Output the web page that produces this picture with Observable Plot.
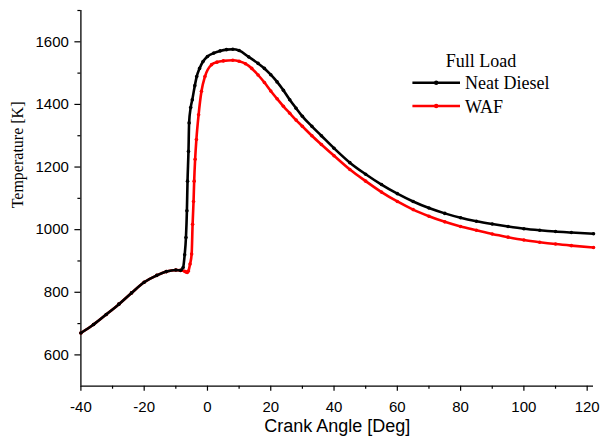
<!DOCTYPE html>
<html>
<head>
<meta charset="utf-8">
<script src="https://cdn.jsdelivr.net/npm/d3@7"></script>
<script src="https://cdn.jsdelivr.net/npm/@observablehq/plot@0.6"></script>
<style>
  html, body { margin: 0; padding: 0; background: #fff; }
  #chart svg { display: block; }
</style>
</head>
<body>
<div id="chart"></div>
<script>
// ---- Data ----
const legendTitle = "Full Load";
const seriesNames = ["Neat Diesel", "WAF"];
const seriesColors = ["#000000", "#ff0000"];

const dieselAngle = [-40, -36, -32, -28, -24, -20, -16, -13, -10, -8.5, -7.7, -7.2, -6.8, -6.5, -6.3, -6.0, -5.8, -5.3, -4.8, -4.0, -3.4, -2.5, -1.4, 0, 2, 4, 6, 8, 10, 13, 16, 18, 20, 22, 24, 26, 28, 30, 33, 36, 40, 45, 50, 55, 60, 65, 70, 75, 80, 85, 90, 95, 100, 105, 110, 115, 122];
const dieselTemp  = [670, 697, 729, 762, 798, 832, 854, 866, 871, 870, 879, 920, 975, 1060, 1155, 1250, 1341, 1390, 1415, 1460, 1489, 1515, 1537, 1553, 1564, 1571, 1575, 1576, 1572, 1552, 1531, 1515, 1495, 1472, 1445, 1415, 1388, 1362, 1330, 1300, 1260, 1214, 1177, 1144, 1115, 1090, 1069, 1052, 1038, 1027, 1018, 1010, 1003, 998, 994, 991, 987];

const wafAngle = [-40, -36, -32, -28, -24, -20, -16, -13, -10, -8.5, -7.2, -6.8, -6.4, -6.0, -5.5, -5.0, -4.7, -4.4, -4.2, -3.9, -3.5, -2.8, -1.9, -0.8, 1.3, 3, 5, 8, 10, 12, 14, 16, 18, 20, 22, 24, 26, 28, 30, 33, 36, 40, 45, 50, 55, 60, 65, 70, 75, 80, 85, 90, 95, 100, 105, 110, 115, 122];
const wafTemp  = [670, 697, 729, 762, 798, 832, 854, 866, 871, 870, 867, 865, 863, 868, 890, 922, 1017, 1090, 1155, 1225, 1288, 1367, 1442, 1489, 1527, 1535, 1539, 1541, 1538, 1530, 1515, 1494, 1470, 1443, 1418, 1394, 1372, 1350, 1330, 1300, 1272, 1236, 1192, 1155, 1120, 1090, 1064, 1043, 1025, 1010, 998, 986, 976, 967, 960, 954, 949, 943];

const xMajorTicks = [-40, -20, 0, 20, 40, 60, 80, 100, 120];
const xMinorTicks = [-30, -10, 10, 30, 50, 70, 90, 110];
const yMajorTicks = [600, 800, 1000, 1200, 1400, 1600];
const yMinorTicks = [700, 900, 1100, 1300, 1500, 1700];
const xTitle = "Crank Angle [Deg]";
const yTitle = "Temperature [K]";

// ---- Build table ----
const diesel = dieselAngle.map((a, i) => ({angle: a, temp: dieselTemp[i], series: seriesNames[0]}));
const waf = wafAngle.map((a, i) => ({angle: a, temp: wafTemp[i], series: seriesNames[1]}));

const sans = "'Liberation Sans', Arial, sans-serif";
const serif = "'Liberation Serif', 'Times New Roman', serif";
const plain = d => String(d);

// Legend drawn as a custom render mark, positioned from the frame dimensions
function legendMark(index, scales, values, dims) {
  const g = d3.create("svg:g");
  const x0 = dims.marginLeft;
  const y0 = dims.marginTop;
  g.append("text")
    .attr("x", x0 + 400.6).attr("y", y0 + 56.7)
    .attr("text-anchor", "middle")
    .attr("font-family", serif).attr("font-size", 18)
    .attr("fill", "#000")
    .text(legendTitle);
  seriesNames.forEach((name, i) => {
    const y = y0 + 72.7 + i * 23.3;
    g.append("line")
      .attr("x1", x0 + 332).attr("x2", x0 + 379.6)
      .attr("y1", y).attr("y2", y)
      .attr("stroke", seriesColors[i]).attr("stroke-width", 2.6);
    g.append("circle")
      .attr("cx", x0 + 355.8).attr("cy", y).attr("r", 2.2)
      .attr("fill", seriesColors[i]);
    g.append("text")
      .attr("x", x0 + 384.6).attr("y", y + 6.6)
      .attr("text-anchor", "start")
      .attr("font-family", serif).attr("font-size", 18)
      .attr("fill", "#000")
      .text(name);
  });
  return g.node();
}

const chart = Plot.plot({
  width: 604,
  height: 447,
  marginLeft: 80.4,
  marginRight: 11,
  marginTop: 10,
  marginBottom: 61.3,
  style: {background: "#fff", color: "#000", fontFamily: sans},
  x: {domain: [-40, 122]},
  y: {domain: [500, 1700]},
  marks: [
    // axes
    Plot.axisX({ticks: xMajorTicks, tickFormat: plain, tickSize: 5, tickPadding: 10, fontSize: 15, fontFamily: sans, label: null, strokeWidth: 1.2}),
    Plot.axisX({ticks: xMinorTicks, tickSize: 3, tickFormat: () => "", label: null, strokeWidth: 1.2}),
    Plot.axisY({ticks: yMajorTicks, tickFormat: plain, tickSize: 6, tickPadding: 6, fontSize: 15, fontFamily: sans, label: null, strokeWidth: 1.2}),
    Plot.axisY({ticks: yMinorTicks, tickSize: 3, tickFormat: () => "", label: null, strokeWidth: 1.2}),
    Plot.ruleX([-40], {stroke: "#000", strokeWidth: 1.3}),
    Plot.ruleY([500], {stroke: "#000", strokeWidth: 1.3}),
    // titles
    Plot.text([xTitle], {frameAnchor: "bottom", dy: 45.3, fontSize: 18, fontFamily: sans, fill: "#000"}),
    Plot.text([yTitle], {frameAnchor: "left", rotate: -90, dx: -63, dy: 10, fontSize: 16, fontFamily: serif, fill: "#000"}),
    // series (WAF under Neat Diesel)
    Plot.line(waf, {x: "angle", y: "temp", stroke: seriesColors[1], strokeWidth: 2.6, curve: "monotone-x"}),
    Plot.dot(waf, {x: "angle", y: "temp", fill: seriesColors[1], r: 1.8}),
    Plot.line(diesel, {x: "angle", y: "temp", stroke: seriesColors[0], strokeWidth: 2.6, curve: "monotone-x"}),
    Plot.dot(diesel, {x: "angle", y: "temp", fill: seriesColors[0], r: 1.8}),
    legendMark
  ]
});
document.getElementById("chart").appendChild(chart);
</script>
</body>
</html>
